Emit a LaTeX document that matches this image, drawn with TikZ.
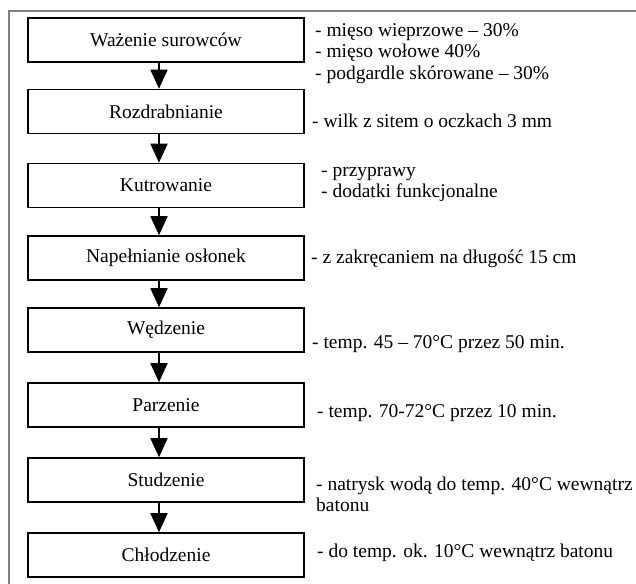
\documentclass[tikz,border=0pt]{standalone}
\usepackage{fontspec}
\setmainfont{Liberation Serif}
\usetikzlibrary{arrows.meta}
\begin{document}
\begin{tikzpicture}[x=1pt,y=-1pt,
  font=\fontsize{19.5}{21.5}\selectfont,
  stepbox/.style={draw=black,line width=1.6pt,minimum width=276pt,minimum height=44pt,inner sep=0pt,fill=white},
  desc/.style={anchor=base west,inner sep=0pt},
  flow/.style={line width=1.8pt,-{Triangle[length=19pt,width=17pt]}},
  frameline/.style={draw=black!50,line width=2pt}]
\useasboundingbox (0,0) rectangle (636,583);
\coordinate (ftr) at (636,11);
\coordinate (ftl) at (9,11);
\coordinate (fbl) at (9,584);
\draw[frameline] (ftr) -- (ftl) -- (fbl);

\node[stepbox] (b1) at (166,40) {Ważenie surowców};
\node[stepbox] (b2) at (166,111.5) {Rozdrabnianie};
\node[stepbox] (b3) at (166,185.5) {Kutrowanie};
\node[stepbox] (b4) at (166,258) {Napełnianie osłonek};
\node[stepbox] (b5) at (166,330) {Wędzenie};
\node[stepbox] (b6) at (166,405) {Parzenie};
\node[stepbox] (b7) at (166,480) {Studzenie};
\node[stepbox] (b8) at (166,555) {Chłodzenie};

\foreach \a/\b in {b1/b2,b2/b3,b3/b4,b4/b5,b5/b6,b6/b7,b7/b8}
  \draw[flow] ([xshift=-7pt]\a.south) -- ([xshift=-7pt]\b.north);

\node[desc] (d1) at (315,36.5) {\vtop{\hbox{- mięso wieprzowe – 30\%}\hbox{- mięso wołowe 40\%}\hbox{- podgardle skórowane – 30\%}}};
\node[desc] (d2) at (312,127) {- wilk z sitem o oczkach 3 mm};
\node[desc] (d3) at (321,176) {\vtop{\hbox{- przyprawy}\hbox{- dodatki funkcjonalne}}};
\node[desc] (d4) at (311,263) {- z zakręcaniem na długość 15 cm};
\node[desc] (d5) at (312,348) {- temp. 45 – 70°C przez 50 min.};
\node[desc] (d6) at (317,417) {- temp. 70-72°C przez 10 min.};
\node[desc] (d7) at (316,490) {\vtop{\hbox{- natrysk wodą do temp. 40°C wewnątrz}\hbox{batonu}}};
\node[desc] (d8) at (317,557) {- do temp. ok. 10°C wewnątrz batonu};
\end{tikzpicture}
\end{document}
